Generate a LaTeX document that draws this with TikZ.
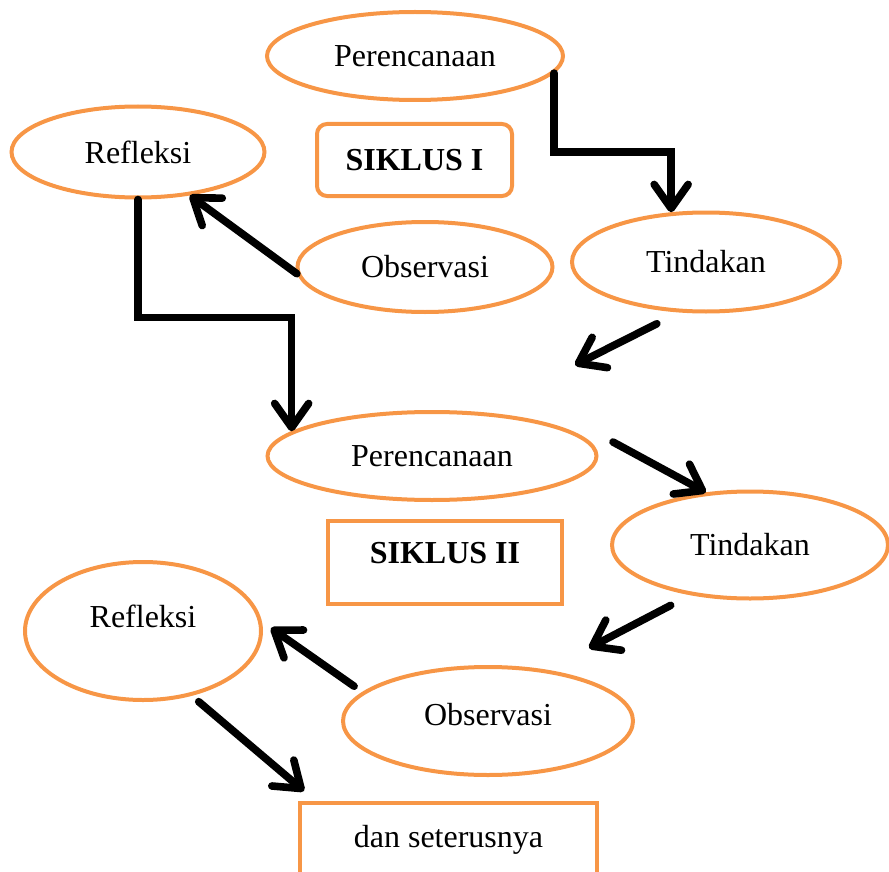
\documentclass[tikz,border=0pt]{standalone}
\usepackage{fontspec}
\setmainfont{Liberation Serif}
\usetikzlibrary{shapes.geometric,arrows.meta}
\definecolor{siklusorange}{HTML}{F79646}
\begin{document}
\begin{tikzpicture}[x={(0.5pt,0)},y={(0,-0.5pt)},
	stage/.style={draw=siklusorange, line width=2pt, ellipse, inner sep=0pt, font=\fontsize{16}{19}\selectfont},
	cyclebox/.style={draw=siklusorange, line width=2pt, inner sep=0pt, font=\fontsize{16}{19}\selectfont},
	flow/.style={line width=3.8pt, line cap=round, -{Straight Barb[length=12pt,width=17pt,line cap=round,line join=round]}}]
		\useasboundingbox (0,0) rectangle (889,872);
		\node[stage, minimum width=148pt, minimum height=44pt] (per1) at (415,56) {Perencanaan};
		\node[cyclebox, rounded corners=5pt, minimum width=97.5pt, minimum height=36pt] (sik1) at (414.5,160) {\textbf{SIKLUS I}};
		\node[stage, minimum width=126.5pt, minimum height=45.5pt] (ref1) at (138,152) {Refleksi};
		\node[stage, minimum width=127.5pt, minimum height=45pt] (obs1) at (425,267) {Observasi};
		\node[stage, minimum width=134pt, minimum height=49.5pt] (tin1) at (706,262) {Tindakan};
		\node[stage, minimum width=164.5pt, minimum height=44pt] (per2) at (432,456) {Perencanaan};
		\node[stage, minimum width=138pt, minimum height=53.5pt] (tin2) at (750,545) {Tindakan};
		\node[cyclebox, minimum width=117pt, minimum height=41.5pt] (sik2) at (445,562.5) {\raisebox{-0.6pt}[0pt][0pt]{\textbf{SIKLUS II}}};
		\node[stage, minimum width=118pt, minimum height=69pt] (ref2) at (143,631) {\raisebox{1.7pt}[0pt][0pt]{Refleksi}};
		\node[stage, minimum width=145pt, minimum height=54pt] (obs2) at (488,721) {\raisebox{-2.3pt}[0pt][0pt]{Observasi}};
		\node[cyclebox, minimum width=148.5pt, minimum height=45pt] (next) at (448.5,848) {\raisebox{0.5pt}[0pt][0pt]{dan seterusnya}};
		\coordinate (tip1) at (575,365);
		\coordinate (tail2) at (613,442);
		\coordinate (tip3) at (589,648);
		\coordinate (tip4) at (271,628);
		\coordinate (tip5) at (304,791);
		\draw[flow] (per1.-7) -- ++(0,79) -| (tin1.125);
		\draw[flow] (obs1.183) -- (ref1.-40);
		\draw[flow] (ref1.south) -- ++(0,118) -| (per2.170);
		\draw[flow, shorten <=12.5pt] (tin1.242) -- (tip1);
		\draw[flow] (tail2) -- (tin2.130);
		\draw[flow, shorten <=11pt] (tin2.220) -- (tip3);
		\draw[flow, shorten <=5pt] (obs2.167) -- (tip4);
		\draw[flow, shorten <=4.5pt] (ref2.-53) -- (tip5);
	\end{tikzpicture}
\end{document}
